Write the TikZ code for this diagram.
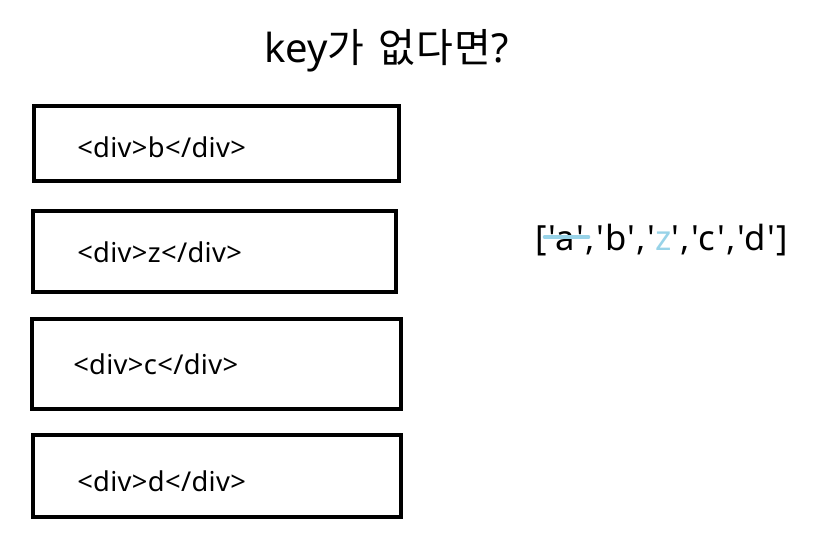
\documentclass[tikz,border=0pt]{standalone}
\usepackage{fontspec}
\setmainfont{Noto Sans}
\newfontfamily\krfont[LetterSpace=3]{Noto Sans CJK KR}
\newfontfamily\arrfont[LetterSpace=4]{Noto Sans}
\usetikzlibrary{positioning}
\definecolor{zblue}{RGB}{152,211,232}
\tikzset{
  divbox/.style={draw=black,line width=3pt,inner sep=0pt},
  divtxt/.style={anchor=base west,inner sep=0pt,font=\fontsize{20.5}{24}\selectfont\addfontfeatures{LetterSpace=1.2}},
  titletxt/.style={anchor=base west,inner sep=0pt,font=\fontsize{30}{35}\selectfont},
  arrtxt/.style={anchor=base west,inner sep=0pt,font=\arrfont\fontsize{26}{30}\selectfont},
  strike/.style={zblue,line width=3.5pt,line cap=round},
}
\begin{document}
\begin{tikzpicture}[x=0.75pt,y=-0.75pt]
  \useasboundingbox (0,0) rectangle (816,553);
  \node[titletxt] (title) at (264,62) {key{\krfont 가\hspace{0.35em}없다면}?};
  % boxes
  \node[divbox,minimum width=273.75pt,minimum height=56.25pt,anchor=north west] (b1) at (32,104) {};
  \node[divbox,minimum width=272.25pt,minimum height=60.75pt,anchor=north west] (b2) at (31,209) {};
  \node[divbox,minimum width=276.75pt,minimum height=67.5pt,anchor=north west] (b3) at (30,317) {};
  \node[divbox,minimum width=276pt,minimum height=61.5pt,anchor=north west] (b4) at (31,433) {};
  \node[divtxt] (t1) at (77,157) {<div>b</div>};
  \node[divtxt] (t2) at (77,262) {<div>z</div>};
  \node[divtxt] (t3) at (73,374) {<div>c</div>};
  \node[divtxt] (t4) at (77,491) {<div>d</div>};
  % array
  \node[arrtxt] (arr) at (535,250) {['a','b','\textcolor{zblue}{z}','c','d']};
  \coordinate (s1) at (545,237);
  \coordinate (s2) at (588,237);
  \draw[strike] (s1) -- (s2);
\end{tikzpicture}
\end{document}
